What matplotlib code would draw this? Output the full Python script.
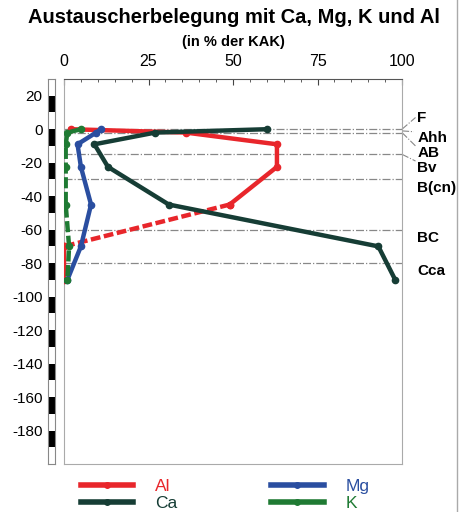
import matplotlib
import matplotlib.pyplot as plt
from matplotlib.lines import Line2D

matplotlib.use('Agg')
plt.rcParams['font.family'] = ['Liberation Sans', 'DejaVu Sans']
plt.rcParams['axes.unicode_minus'] = False

# Probentiefen (cm) und Belegung (% der KAK)
depth = [0, -2, -9, -22.5, -45, -70, -90]
al = [2, 36, 63, 63, 49, 0, 0]
ca = [60, 27, 9, 13, 31, 93, 98]
mg = [11, 9.5, 4, 5, 8, 5, 1]
k = [5, 1, 0.5, 0.5, 0.5, 1.5, 1]

# Horizonte
bounds = [0, -2, -15, -30, -60, -80]
horizons = ['F', 'Ahh', 'AB', 'Bv', 'B(cn)', 'BC', 'Cca']
label_y = [6.5, -5.5, -14.5, -23, -35, -65, -84.5]

c_al, c_ca, c_mg, c_k = '#e8262b', '#163d35', '#2a4ea0', '#1f7a33'

fig = plt.figure(figsize=(4.59, 5.12), dpi=100)
ax = fig.add_axes([64 / 459, 1 - 464 / 512, 338 / 459, 385 / 512])
ruler = fig.add_axes([48 / 459, 1 - 464 / 512, 7 / 459, 385 / 512], sharey=ax)

for b in bounds:
    ax.axhline(b, color='#888888', lw=0.9, ls='-.', zorder=1)

lw, ms = 3.2, 4.5
ax.plot(al[:5], depth[:5], color=c_al, lw=lw, marker='o', ms=ms, zorder=3)
ax.plot(al[4:6], depth[4:6], color=c_al, lw=lw, ls=(0, (2.2, 0.8)), marker='o', ms=ms, zorder=3)
ax.plot(al[5:], depth[5:], color=c_al, lw=lw, marker='o', ms=ms, zorder=3)
ax.plot(ca, depth, color=c_ca, lw=lw, marker='o', ms=ms, zorder=4)
ax.plot(mg, depth, color=c_mg, lw=lw, marker='o', ms=ms, zorder=3)
ax.plot(k, depth, color=c_k, lw=lw, ls=(0, (2.5, 0.8)), marker='o', ms=ms, zorder=3)

ax.set_xlim(0, 100)
ax.set_ylim(-200, 30)
ax.xaxis.tick_top()
ax.set_xticks([0, 25, 50, 75, 100])
ax.set_xticks(range(0, 101, 5), minor=True)
ax.tick_params(axis='x', direction='in', labelsize=11.5, length=4, pad=7, color='#444444')
ax.tick_params(axis='x', which='minor', direction='in', length=2.5, color='#444444')
ax.tick_params(axis='y', left=False, labelleft=False)
for side in ['left', 'right', 'bottom']:
    ax.spines[side].set_color('#aaaaaa')
ax.spines['top'].set_color('#555555')

# Horizontbezeichnungen mit Hinweislinien
for name, y in zip(horizons, label_y):
    ax.text(104.5, y, name, fontsize=11, fontweight='bold', va='center', ha='left', clip_on=False)
leaders = [((100, 0), (104, 7)), ((100, -1), (103.5, -1.5)), ((100, -2), (104, -10)), ((100, -15), (104, -19))]
for (x0, y0), (x1, y1) in leaders:
    ax.plot([x0, x1], [y0, y1], color='#888888', lw=0.8, ls='-.', clip_on=False)

# Tiefenlineal
for top in range(20, -200, -20):
    ruler.axhspan(top - 10, top, color='black', lw=0)
ruler.set_xticks([])
ruler.set_yticks(range(20, -200, -20))
ruler.tick_params(axis='y', length=0, labelsize=11, pad=4)
for s in ruler.spines.values():
    s.set_color('#888888')
    s.set_linewidth(0.8)

fig.text(0.51, 0.966, 'Austauscherbelegung mit Ca, Mg, K und Al', ha='center', va='center',
         fontsize=14.5, fontweight='bold')
fig.text(0.508, 0.918, '(in % der KAK)', ha='center', va='center', fontsize=10.5, fontweight='bold')

handles = [Line2D([], [], color=c, lw=4, marker='o', ms=4) for c in [c_al, c_ca, c_mg, c_k]]
fig.legend(handles, ['Al', 'Ca', 'Mg', 'K'], ncol=2, loc='lower left', bbox_to_anchor=(0.142, -0.028),
           frameon=False, fontsize=12.5, handlelength=3.0, handletextpad=1.3, columnspacing=5.4,
           labelspacing=0.1, labelcolor='linecolor')

fig.add_artist(Line2D([0.995, 0.995], [0, 1], color='#aaaaaa', lw=1))

fig.savefig('out.png', dpi=100)
